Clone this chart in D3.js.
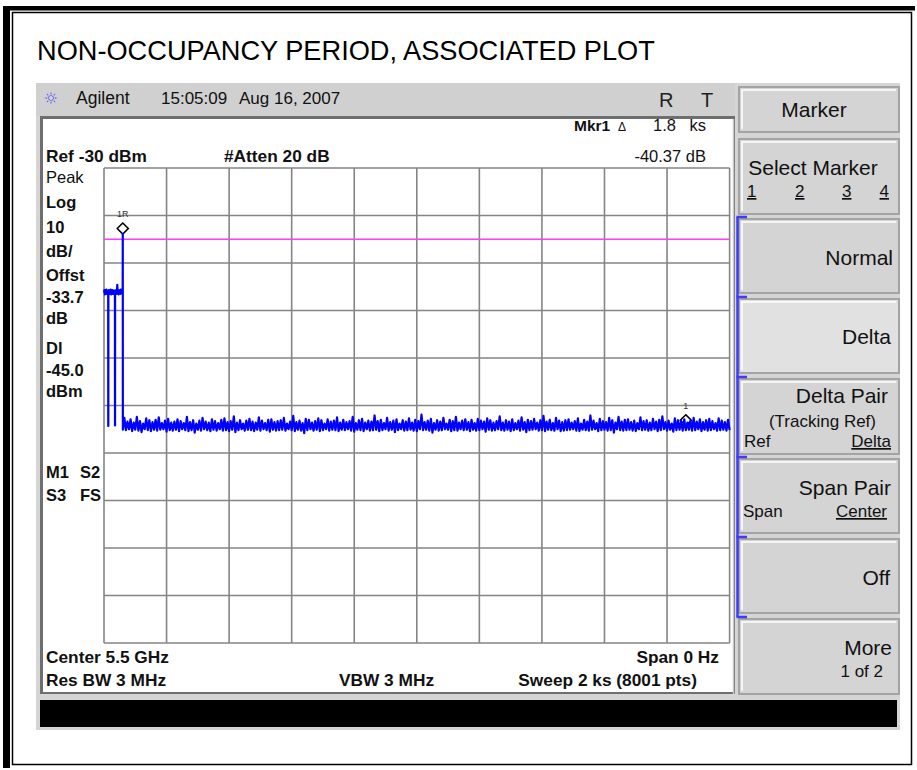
<!DOCTYPE html>
<html><head><meta charset="utf-8">
<script src="https://cdn.jsdelivr.net/npm/d3@7"></script>
<style>body{margin:0;background:#fff}svg{display:block;font-family:"Liberation Sans",Arial,sans-serif}</style>
</head><body><svg id="c" width="917" height="770"></svg>
<script>
// ---------- data ----------
const title = "NON-OCCUPANCY PERIOD, ASSOCIATED PLOT";
const gridTimes = [0,200,400,600,800,1000,1200,1400,1600,1800,2000];      // seconds (sweep 2 ks)
const gridLevels = [-30,-40,-50,-60,-70,-80,-90,-100,-110,-120,-130];     // dBm (ref -30, 10 dB/div)
const displayLine = -45.0;

// start of trace: burst level, two short drops, the 1R peak, then the floor
const startT = [0,1.5,3,4.5,6,7.5,9,10.5,12,13.4,13.6,13.8,14,15.5,17,18.5,20,21.5,23,24.5,26,27.5,29,30.5,32,33.5,34.9,35.1,35.3,35.5,37,38.5,40,41.5,42.5,43.5,45,46.5,48,49.5,51,52.5,54,55.5,57,58.5,59.7,60,60.3];
const startV = [-56.2,-55.7,-56.6,-55.9,-56.4,-55.6,-56.5,-55.8,-56.3,-56.0,-84.3,-84.3,-56.1,-55.7,-56.5,-55.9,-56.4,-55.6,-56.6,-55.8,-56.2,-55.7,-56.5,-55.9,-56.3,-55.8,-56.1,-84.2,-84.2,-56.0,-56.4,-55.7,-56.5,-55.8,-54.6,-56.2,-55.9,-56.6,-55.7,-56.3,-55.8,-56.5,-55.6,-56.2,-55.9,-56.4,-56.0,-43.9,-85.1];

// noise floor: peak / min reading per 10 s bin, starting at 65 s
const floorStart = 65, floorBin = 10;
const floorHi = [
-82.6,-83.4,-82.9,-83.6,-82.4,-83.3,-83.8,-82.7,-83.1,-83.5,
-83.0,-82.5,-83.7,-83.2,-82.8,-83.6,-83.4,-82.9,-83.3,-83.7,
-82.4,-83.5,-83.1,-83.8,-83.2,-82.6,-83.4,-83.6,-82.9,-83.3,
-83.7,-83.0,-82.7,-83.5,-83.3,-82.3,-83.6,-83.1,-83.8,-83.2,
-82.8,-83.4,-83.6,-82.5,-83.2,-83.7,-83.0,-82.9,-83.5,-83.3,
-83.1,-82.6,-83.8,-83.4,-82.2,-83.5,-83.2,-83.7,-82.8,-83.0,
-83.6,-83.3,-82.7,-83.1,-83.8,-82.9,-83.4,-83.2,-82.5,-83.6,
-83.0,-83.5,-83.3,-82.4,-83.7,-83.1,-82.8,-83.6,-83.2,-83.4,
-82.1,-83.3,-83.0,-83.7,-82.6,-83.5,-83.2,-82.9,-83.8,-83.1,
-83.4,-82.7,-83.6,-83.0,-83.3,-81.9,-83.5,-83.2,-82.8,-83.7,
-83.1,-83.4,-82.6,-83.8,-83.0,-83.3,-82.4,-83.6,-83.2,-82.9,
-83.5,-83.0,-83.7,-82.8,-83.2,-83.4,-82.7,-83.1,-83.6,-83.3,
-82.3,-83.6,-83.1,-83.4,-82.9,-83.7,-83.2,-82.5,-83.5,-83.0,
-83.3,-82.8,-83.6,-83.1,-82.2,-83.4,-83.0,-83.7,-82.6,-83.2,
-83.5,-83.1,-82.9,-83.6,-83.3,-82.7,-83.8,-83.0,-83.4,-82.1,
-83.2,-83.7,-82.8,-83.3,-83.5,-82.6,-83.1,-83.6,-82.4,-83.4,
-83.0,-82.9,-83.5,-83.2,-83.7,-82.5,-83.3,-83.1,-83.6,-82.8,
-83.4,-83.0,-82.3,-83.5,-83.2,-83.8,-82.7,-83.1,-83.3,-82.9,
-83.6,-83.2,-82.6,-83.4,-82.9,-83.5,-83.1,-82.8,-83.3,-83.7,
-82.7,-83.2,-83.5,-83.0];
const floorLo = [
-85.2,-85.0,-85.4,-85.1,-85.3,-85.6,-85.0,-85.2,-85.4,-85.1,
-85.3,-85.1,-85.0,-85.5,-85.2,-85.3,-85.1,-85.4,-85.0,-85.2,
-85.4,-85.2,-85.7,-85.1,-85.3,-85.0,-85.2,-85.4,-85.1,-85.3,
-85.0,-85.3,-85.2,-85.4,-85.1,-85.6,-85.2,-85.0,-85.3,-85.1,
-85.2,-85.4,-85.1,-85.3,-85.0,-85.2,-85.5,-85.1,-85.3,-85.2,
-85.1,-85.3,-85.0,-85.2,-85.4,-85.1,-85.3,-85.8,-85.2,-85.0,
-85.3,-85.1,-85.4,-85.2,-85.0,-85.3,-85.1,-85.2,-85.4,-85.1,
-85.2,-85.0,-85.3,-85.5,-85.1,-85.2,-85.4,-85.0,-85.3,-85.2,
-85.1,-85.4,-85.2,-85.0,-85.3,-85.1,-85.6,-85.2,-85.0,-85.3,
-85.2,-85.1,-85.3,-85.4,-85.0,-85.2,-85.1,-85.3,-85.7,-85.1,
-85.3,-85.2,-85.0,-85.1,-85.4,-85.2,-85.3,-85.0,-85.2,-85.1,
-85.4,-85.1,-85.3,-85.2,-85.0,-85.5,-85.1,-85.3,-85.2,-85.0,
-85.2,-85.3,-85.1,-85.4,-85.2,-85.0,-85.3,-85.1,-85.6,-85.2,
-85.1,-85.0,-85.3,-85.2,-85.4,-85.1,-85.2,-85.3,-85.0,-85.4,
-85.3,-85.2,-85.1,-85.0,-85.3,-85.4,-85.1,-85.2,-85.3,-85.1,
-85.0,-85.4,-85.2,-85.1,-85.3,-85.2,-85.7,-85.0,-85.2,-85.3,
-85.2,-85.1,-85.3,-85.4,-85.0,-85.2,-85.1,-85.3,-85.2,-85.0,
-85.4,-85.2,-85.0,-85.3,-85.1,-85.5,-85.2,-85.1,-85.3,-85.2,
-85.1,-85.3,-85.2,-85.0,-85.4,-85.1,-85.3,-85.2,-85.0,-85.3,
-85.2,-85.1,-85.3,-85.2];

const markerLabels = ["1R","1"];
const markerT = [60,1860];
const markerV = [-43.9,-84.27];

const headerTexts = ["Agilent","15:05:09","Aug 16, 2007","R","T"];
const readoutTexts = ["Ref -30 dBm","#Atten 20 dB","Mkr1","\u0394","1.8","ks","-40.37 dB"];
const leftLabels = ["Peak","Log","10","dB/","Offst","-33.7","dB","Dl","-45.0","dBm","M1","S2","S3","FS"];
const bottomTexts = ["Center 5.5 GHz","Res BW 3 MHz","VBW 3 MHz","Span 0 Hz","Sweep 2 ks (8001 pts)"];
const softkeyLabels = ["Marker","Select Marker","Normal","Delta","Delta Pair","Span Pair","Off","More"];
const softkeySubs = ["(Tracking Ref)","Ref","Delta","Span","Center","1 of 2"];
const markerNumbers = ["1","2","3","4"];

// ---------- drawing ----------
const svg = d3.select("#c");

// page border
svg.append("rect").attr("x",3).attr("y",6).attr("width",7).attr("height",762).attr("fill","#000");
svg.append("rect").attr("x",3).attr("y",6).attr("width",912).attr("height",4.5).attr("fill","#000");
svg.append("rect").attr("x",12.5).attr("y",12.5).attr("width",899).attr("height",752)
  .attr("fill","none").attr("stroke","#000").attr("stroke-width",1.5);

// title
svg.append("text").attr("x",37).attr("y",60).attr("font-size",27.2).attr("fill","#000").text(title);

// screenshot body
svg.append("rect").attr("x",36).attr("y",83).attr("width",864).attr("height",647).attr("fill","#d5d5d5");
svg.append("rect").attr("x",36).attr("y",83).attr("width",699).attr("height",33).attr("fill","#d0d0d0");
// display frame
svg.append("rect").attr("x",40).attr("y",116).attr("width",695).attr("height",578).attr("fill","#6e6e6e");
svg.append("rect").attr("x",43).attr("y",119).attr("width",690).attr("height",573).attr("fill","#fff");
svg.append("line").attr("x1",733.5).attr("x2",733.5).attr("y1",119).attr("y2",694).attr("stroke","#c8c8c8").attr("stroke-width",1.5);
// black status bar
svg.append("rect").attr("x",40).attr("y",700).attr("width",857).attr("height",27).attr("fill","#000");

// header
const logo = svg.append("g").attr("transform","translate(51,98)");
for (let a = 0; a < 8; a++) {
  const ang = a * Math.PI / 4;
  logo.append("line").attr("x1",Math.cos(ang)*2).attr("y1",Math.sin(ang)*2)
    .attr("x2",Math.cos(ang)*6.5).attr("y2",Math.sin(ang)*6.5)
    .attr("stroke","#5a5aff").attr("stroke-width",1.3).attr("stroke-dasharray","1.2,1");
}
const hdr = [[76,104,17.5],[161,104,17],[239,104,17],[659,107,20],[701,107,20]];
headerTexts.forEach((t,i)=>{
  svg.append("text").attr("x",hdr[i][0]).attr("y",hdr[i][1]).attr("font-size",hdr[i][2])
    .attr("fill", i<3 ? "#111" : "#222").attr("font-weight", i<3 ? "normal" : "300").text(t);
});

// scales
const x = d3.scaleLinear().domain([0,2000]).range([104,729.6]);
const y = d3.scaleLinear().domain([-130,-30]).range([643,168]);

// grid
const grid = svg.append("g");
gridTimes.forEach(t=>grid.append("line").attr("x1",x(t)).attr("x2",x(t)).attr("y1",y(-30)).attr("y2",y(-130))
  .attr("stroke","#858585").attr("stroke-width",1.6));
gridLevels.forEach(v=>grid.append("line").attr("x1",x(0)).attr("x2",x(2000)).attr("y1",y(v)).attr("y2",y(v))
  .attr("stroke","#858585").attr("stroke-width",1.6));

// display line
svg.append("line").attr("x1",x(0)).attr("x2",x(2000)).attr("y1",y(displayLine)).attr("y2",y(displayLine))
  .attr("stroke","#ff3cff").attr("stroke-width",1.3);

// readouts
const ro = [[46,162,17.3,"bold","start"],[224,162,17.3,"bold","start"],[574,131,15.5,"bold","start"],
            [618,131,12,"normal","start"],[653,131,16.5,"normal","start"],[706,131,16.5,"normal","end"],
            [706,162,16.5,"normal","end"]];
readoutTexts.forEach((t,i)=>{
  const r = ro[i];
  svg.append("text").attr("x",r[0]).attr("y",r[1]).attr("font-size",r[2]).attr("font-weight",r[3])
    .attr("text-anchor",r[4]).attr("fill","#111").text(t);
});

// left labels
const ll = [[46,183,0],[46,208,1],[46,233,1],[46,257,1],[46,281,1],[46,303,1],[46,324,1],[46,354,1],
            [46,376,1],[46,397,1],[46,478,1],[80,478,1],[46,501,1],[80,501,1]];
leftLabels.forEach((t,i)=>{
  svg.append("text").attr("x",ll[i][0]).attr("y",ll[i][1]).attr("font-size",16.5)
    .attr("font-weight",ll[i][2]?"bold":"normal").attr("fill","#111").text(t);
});

// bottom annotations
const bt = [[46,663,"start"],[46,686,"start"],[339,686,"start"],[719,663,"end"],[697,686,"end"]];
bottomTexts.forEach((t,i)=>{
  svg.append("text").attr("x",bt[i][0]).attr("y",bt[i][1]).attr("font-size",17.3).attr("font-weight","bold")
    .attr("text-anchor",bt[i][2]).attr("fill","#111").text(t);
});

// markers (drawn under the trace)
markerT.forEach((t,i)=>{
  const mx = x(t), my = y(markerV[i]);
  svg.append("path").attr("d",`M${mx},${my-11}L${mx+5.5},${my-5.5}L${mx},${my}L${mx-5.5},${my-5.5}Z`)
    .attr("fill","#fff").attr("stroke","#000").attr("stroke-width",1.6);
  svg.append("text").attr("x",mx).attr("y",my-17).attr("font-size",9).attr("text-anchor","middle")
    .attr("fill","#333").text(markerLabels[i]);
});

// trace
const pts = startT.map((t,i)=>({t, v:startV[i]}));
floorHi.forEach((v,i)=>{
  const t = floorStart + i*floorBin;
  pts.push({t, v});
  pts.push({t: t + floorBin/2, v: floorLo[i]});
});
const line = d3.line().x(d=>x(d.t)).y(d=>y(d.v));
svg.append("path").datum(pts).attr("d",line).attr("fill","none").attr("stroke","#0000ff")
  .attr("stroke-width",2.2).attr("stroke-linejoin","round");

// softkeys
const keyTops = [87,139,219,299,379,459,539,619];
const keyH = [45,75,74,74,75,74,74,75];
keyTops.forEach((ky,i)=>{
  const g = svg.append("g");
  g.append("rect").attr("x",739).attr("y",ky).attr("width",160).attr("height",keyH[i])
    .attr("fill", i===3 ? "#e1e1e1" : "#d4d4d4").attr("stroke","#a3a3a3").attr("stroke-width",2);
  g.append("path").attr("d",`M742,${ky+keyH[i]-3}V${ky+3}H896`).attr("fill","none").attr("stroke","#fff").attr("stroke-width",1.5);
});
const kl = [[814,117,"middle"],[813,175,"middle"],[893,265,"end"],[891,344,"end"],[888,403,"end"],
            [891,495,"end"],[890,585,"end"],[892,655,"end"]];
softkeyLabels.forEach((t,i)=>{
  svg.append("text").attr("x",kl[i][0]).attr("y",kl[i][1]).attr("font-size",21).attr("text-anchor",kl[i][2])
    .attr("fill","#111").text(t);
});
const ks = [[876,427,"end",false],[744,447,"start",false],[891,447,"end",true],[743,517,"start",false],
            [887,517,"end",true],[883,677,"end",false]];
softkeySubs.forEach((t,i)=>{
  const el = svg.append("text").attr("x",ks[i][0]).attr("y",ks[i][1]).attr("font-size",17).attr("text-anchor",ks[i][2])
    .attr("fill","#111").text(t);
  if (ks[i][3]) el.attr("text-decoration","underline");
});
const mn = [747,795,842,889];
markerNumbers.forEach((t,i)=>{
  svg.append("text").attr("x",mn[i]).attr("y",197).attr("font-size",17).attr("text-anchor", i===3?"end":"start")
    .attr("text-decoration","underline").attr("fill","#111").text(t);
});
// blue bracket
const bracketYs = [217,297,377,457,537,617];
svg.append("line").attr("x1",737.5).attr("x2",737.5).attr("y1",217).attr("y2",617).attr("stroke","#3c3cff").attr("stroke-width",2.5);
bracketYs.forEach(by=>svg.append("line").attr("x1",736.5).attr("x2",747).attr("y1",by).attr("y2",by)
  .attr("stroke","#3c3cff").attr("stroke-width",2.5));
</script></body></html>
